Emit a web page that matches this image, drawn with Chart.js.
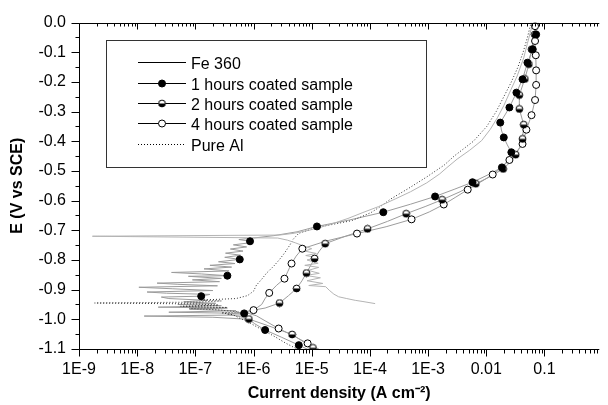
<!DOCTYPE html>
<html>
<head>
<meta charset="utf-8">
<script src="https://cdn.jsdelivr.net/npm/chart.js@4/dist/chart.umd.min.js"></script>
<style>
  body { margin: 0; background: #fff; }
  canvas { display: block; }
</style>
</head>
<body>
<canvas id="myChart" width="608" height="405"></canvas>
<script>
// series names as in the legend
const seriesNames = ["Fe 360", "1 hours coated sample", "2 hours coated sample", "4 hours coated sample", "Pure Al"];

// axis ticks
const xTickValues = [1e-9, 1e-8, 1e-7, 1e-6, 1e-5, 1e-4, 1e-3, 1e-2, 1e-1];
const xTickLabels = ["1E-9", "1E-8", "1E-7", "1E-6", "1E-5", "1E-4", "1E-3", "0.01", "0.1"];
const yTickValues = [0, -0.1, -0.2, -0.3, -0.4, -0.5, -0.6, -0.7, -0.8, -0.9, -1.0, -1.1];
const yTickLabels = ["0.0", "-0.1", "-0.2", "-0.3", "-0.4", "-0.5", "-0.6", "-0.7", "-0.8", "-0.9", "-1.0", "-1.1"];

// Fe 360 : potential (V vs SCE) and current density (A cm-2)
const fe360E = [-0.947,-0.940,-0.936,-0.930,-0.924,-0.915,-0.902,-0.890,-0.886,-0.879,-0.870,-0.860,-0.852,-0.845,-0.835,-0.825,-0.818,-0.811,-0.800,-0.792,-0.785,-0.778,-0.770,-0.762,-0.752,-0.742,-0.733,-0.726,-0.720,-0.716,-0.710,-0.700,-0.690,-0.675,-0.660,-0.640,-0.620,-0.594,-0.570,-0.540,-0.510,-0.489,-0.460,-0.430,-0.398,-0.360,-0.321,-0.280,-0.230,-0.180,-0.119,-0.070,-0.018,0.000];
const fe360I = [1.23e-4,7.6e-5,5.6e-5,4.0e-5,2.9e-5,2.4e-5,2.0e-5,1.74e-5,8.9e-6,1.55e-5,8.3e-6,1.41e-5,7.9e-6,1.35e-5,8.7e-6,1.32e-5,7.6e-6,1.29e-5,8.3e-6,1.23e-5,7.9e-6,1.20e-5,7.6e-6,1.0e-5,7.1e-6,5.2e-6,3.8e-6,2.6e-6,1.7e-9,2.8e-6,5.0e-6,8.9e-6,1.41e-5,2.5e-5,4.2e-5,7.6e-5,1.41e-4,2.75e-4,5.0e-4,9.5e-4,1.58e-3,2.1e-3,3.16e-3,5.2e-3,8.3e-3,1.17e-2,1.55e-2,2.0e-2,2.6e-2,3.4e-2,4.4e-2,5.1e-2,6.0e-2,6.3e-2];

// Pure Al
const pureAlE = [-1.150,-1.100,-1.080,-1.060,-1.040,-1.026,-1.010,-0.995,-0.985,-0.978,-0.975,-0.968,-0.963,-0.960,-0.956,-0.952,-0.948,-0.945,-0.942,-0.938,-0.935,-0.930,-0.920,-0.905,-0.885,-0.865,-0.845,-0.820,-0.800,-0.777,-0.750,-0.730,-0.710,-0.690,-0.667,-0.640,-0.620,-0.594,-0.560,-0.520,-0.480,-0.450,-0.400,-0.350,-0.300,-0.250,-0.200,-0.150,-0.100,-0.050,0.000];
const pureAlI = [1.26e-5,5.6e-6,3.55e-6,2.4e-6,1.58e-6,1.15e-6,8.3e-7,5.6e-7,4.5e-7,2.8e-7,5.6e-7,2.4e-7,7.9e-8,3.55e-7,5.6e-8,2.5e-7,1.0e-7,1.86e-9,1.12e-7,2.8e-7,1.26e-7,5.0e-7,7.9e-7,1.0e-6,1.12e-6,1.38e-6,1.66e-6,2.24e-6,2.75e-6,3.4e-6,4.2e-6,4.8e-6,6.0e-6,1.26e-5,5.0e-5,1.05e-4,1.51e-4,2.3e-4,4.5e-4,9.5e-4,1.9e-3,2.8e-3,6.0e-3,1.02e-2,1.48e-2,2.0e-2,2.7e-2,3.5e-2,4.3e-2,5.1e-2,5.9e-2];

// 1 hours coated sample
const oneHourE = [-1.150,-1.100,-1.087,-1.060,-1.036,-1.015,-1.000,-0.993,-0.989,-0.985,-0.980,-0.976,-0.971,-0.966,-0.962,-0.959,-0.954,-0.950,-0.946,-0.941,-0.936,-0.930,-0.925,-0.922,-0.916,-0.912,-0.908,-0.903,-0.897,-0.892,-0.887,-0.882,-0.878,-0.873,-0.867,-0.862,-0.855,-0.853,-0.847,-0.842,-0.837,-0.830,-0.824,-0.818,-0.812,-0.806,-0.798,-0.791,-0.784,-0.777,-0.770,-0.763,-0.756,-0.749,-0.743,-0.737,-0.731,-0.726,-0.718,-0.705,-0.687,-0.665,-0.639,-0.612,-0.586,-0.562,-0.538,-0.512,-0.488,-0.462,-0.437,-0.412,-0.387,-0.362,-0.337,-0.311,-0.286,-0.236,-0.191,-0.135,-0.090,-0.040,0.000];
const oneHourI = [2.8e-5,8.3e-6,6.0e-6,3.0e-6,1.58e-6,1.05e-6,8.3e-7,2.0e-7,1.32e-8,7.6e-7,6.9e-7,3.5e-8,5.0e-7,7.9e-8,3.55e-7,2.3e-8,2.8e-7,5.0e-8,2.24e-7,6.3e-8,1.58e-7,3.5e-8,2.6e-8,1.26e-7,1.78e-7,3.2e-8,1.48e-8,2.0e-7,4.0e-8,1.07e-8,2.4e-7,5.0e-8,2.2e-8,2.6e-7,8.9e-8,2.8e-7,7.6e-8,3.55e-7,1.26e-7,3.9e-8,3.8e-7,1.41e-7,4.2e-7,1.78e-7,4.8e-7,2.5e-7,5.8e-7,3.2e-7,6.0e-7,3.3e-7,6.6e-7,4.0e-7,7.6e-7,4.5e-7,7.9e-7,8.7e-7,5.6e-7,1.0e-6,2.24e-6,5.6e-6,1.23e-5,4.5e-5,1.7e-4,5.0e-4,1.32e-3,2.8e-3,5.8e-3,1.1e-2,1.86e-2,2.4e-2,2.7e-2,2.3e-2,2.0e-2,1.82e-2,1.74e-2,2.1e-2,2.5e-2,3.3e-2,4.2e-2,5.1e-2,6.3e-2,7.2e-2,7.8e-2];
const oneHourMarkE = [-1.087,-1.036,-0.980,-0.922,-0.853,-0.798,-0.737,-0.687,-0.639,-0.586,-0.538,-0.488,-0.437,-0.387,-0.337,-0.286,-0.236,-0.191,-0.135,-0.090,-0.040];
const oneHourMarkI = [6.0e-6,1.58e-6,6.9e-7,1.26e-7,3.55e-7,5.8e-7,8.7e-7,1.23e-5,1.7e-4,1.32e-3,5.8e-3,1.86e-2,2.7e-2,2.0e-2,1.74e-2,2.5e-2,3.3e-2,4.2e-2,5.1e-2,6.3e-2,7.2e-2];

// 2 hours coated sample
const twoHourE = [-1.150,-1.096,-1.075,-1.051,-1.025,-0.999,-0.990,-0.983,-0.976,-0.962,-0.945,-0.920,-0.896,-0.870,-0.844,-0.820,-0.795,-0.770,-0.745,-0.720,-0.695,-0.670,-0.644,-0.620,-0.597,-0.570,-0.543,-0.518,-0.493,-0.470,-0.445,-0.420,-0.392,-0.344,-0.291,-0.244,-0.190,-0.140,-0.090,-0.040,0.000];
const twoHourI = [2.8e-5,1.05e-5,7.1e-6,4.6e-6,2.0e-6,8.3e-7,5.6e-7,3.55e-7,6.3e-7,1.58e-6,2.8e-6,4.0e-6,5.5e-6,6.8e-6,8.1e-6,9.5e-6,1.12e-5,1.35e-5,1.7e-5,3.8e-5,9.1e-5,2.0e-4,4.2e-4,8.9e-4,1.74e-3,3.55e-3,6.6e-3,1.2e-2,1.95e-2,2.6e-2,3.2e-2,3.8e-2,4.2e-2,4.4e-2,3.7e-2,3.7e-2,4.6e-2,5.4e-2,6.0e-2,6.8e-2,7.2e-2];
const twoHourMarkE = [-1.096,-1.051,-0.999,-0.945,-0.896,-0.844,-0.795,-0.745,-0.695,-0.644,-0.597,-0.543,-0.493,-0.445,-0.392,-0.344,-0.291,-0.244,-0.190,-0.140,-0.090,-0.040];
const twoHourMarkI = [1.05e-5,4.6e-6,8.3e-7,2.8e-6,5.5e-6,8.1e-6,1.12e-5,1.7e-5,9.1e-5,4.2e-4,1.74e-3,6.6e-3,1.95e-2,3.2e-2,4.2e-2,4.4e-2,3.7e-2,3.7e-2,4.6e-2,5.4e-2,6.0e-2,6.8e-2];

// 4 hours coated sample
const fourHourE = [-1.150,-1.100,-1.081,-1.055,-1.031,-1.005,-0.988,-0.978,-0.969,-0.950,-0.930,-0.911,-0.885,-0.863,-0.838,-0.812,-0.787,-0.762,-0.736,-0.711,-0.688,-0.663,-0.638,-0.613,-0.588,-0.563,-0.538,-0.512,-0.488,-0.463,-0.436,-0.409,-0.361,-0.312,-0.261,-0.210,-0.161,-0.110,-0.062,-0.012,0.000];
const fourHourI = [3.55e-5,1.32e-5,8.5e-6,4.8e-6,2.7e-6,1.58e-6,1.12e-6,7.6e-7,1.0e-6,1.38e-6,1.58e-6,1.86e-6,2.5e-6,3.4e-6,3.9e-6,4.5e-6,5.4e-6,6.9e-6,1.78e-5,6.0e-5,1.9e-4,5.2e-4,1.05e-3,1.86e-3,3.0e-3,4.8e-3,7.9e-3,1.29e-2,1.86e-2,2.5e-2,3.3e-2,4.2e-2,4.9e-2,6.0e-2,6.9e-2,7.2e-2,7.2e-2,7.1e-2,6.9e-2,6.9e-2,6.9e-2];
const fourHourMarkE = [-1.081,-1.031,-0.969,-0.911,-0.863,-0.812,-0.762,-0.711,-0.663,-0.613,-0.563,-0.512,-0.463,-0.409,-0.361,-0.312,-0.261,-0.210,-0.161,-0.110,-0.062,-0.012];
const fourHourMarkI = [8.5e-6,2.7e-6,1.0e-6,1.86e-6,3.4e-6,4.5e-6,6.9e-6,6.0e-5,5.2e-4,1.86e-3,4.8e-3,1.29e-2,2.5e-2,4.2e-2,4.9e-2,6.0e-2,6.9e-2,7.2e-2,7.2e-2,7.1e-2,6.9e-2,6.9e-2];


function toPoints(E, I) {
  return E.map((e, k) => ({x: I[k], y: e}));
}

// half filled circle for the 2 hours symbol
const halfDot = document.createElement("canvas");
halfDot.width = 9; halfDot.height = 9;
(function(){
  const c = halfDot.getContext("2d");
  c.beginPath(); c.arc(4.5, 4.5, 3.4, 0, Math.PI*2); c.fillStyle = "#fff"; c.fill();
  c.beginPath(); c.arc(4.5, 4.5, 3.4, 0, Math.PI); c.fillStyle = "#000"; c.fill();
  c.beginPath(); c.arc(4.5, 4.5, 3.4, 0, Math.PI*2); c.strokeStyle = "#000"; c.lineWidth = 1; c.stroke();
})();

const lineGray = "#9c9c9c";

function lineSet(name, E, I, color, dash) {
  return {label: name, data: toPoints(E, I), showLine: true, borderColor: color, borderWidth: 1,
    borderDash: dash || [], pointRadius: 0, tension: 0, order: 2};
}
function markSet(name, E, I, style, fill) {
  return {label: name, data: toPoints(E, I), showLine: false, pointStyle: style, pointRadius: 3.5,
    pointBackgroundColor: fill, pointBorderColor: "#000", pointBorderWidth: 1, order: 1};
}

const datasets = [
  lineSet(seriesNames[0], fe360E, fe360I, "#b4b4b4"),
  lineSet(seriesNames[4], pureAlE, pureAlI, "#333", [1, 2]),
  lineSet(seriesNames[1], oneHourE, oneHourI, lineGray),
  lineSet(seriesNames[2], twoHourE, twoHourI, lineGray),
  lineSet(seriesNames[3], fourHourE, fourHourI, lineGray),
  markSet(seriesNames[1], oneHourMarkE, oneHourMarkI, "circle", "#000"),
  markSet(seriesNames[2], twoHourMarkE, twoHourMarkI, halfDot, "#000"),
  markSet(seriesNames[3], fourHourMarkE, fourHourMarkI, "circle", "#fff")
];

// axes frame and tick marks
const frame = {
  id: "frame",
  afterDraw(chart) {
    const {ctx, chartArea: a, scales: {x, y}} = chart;
    const L = Math.round(a.left) + 0.5, B = Math.round(a.bottom) + 0.5, T = Math.round(a.top) + 0.5;
    ctx.save();
    ctx.strokeStyle = "#000";
    ctx.lineWidth = 1;
    ctx.beginPath();
    ctx.moveTo(L, T); ctx.lineTo(L, B);
    ctx.moveTo(L, B); ctx.lineTo(a.right, B);
    ctx.moveTo(L, T); ctx.lineTo(a.right, T);
    x.ticks.forEach(t => {
      const px = Math.round(x.getPixelForValue(t.value)) + 0.5;
      const major = t.label !== "";
      ctx.moveTo(px, B); ctx.lineTo(px, B + (major ? 7 : 4));
      ctx.moveTo(px, T); ctx.lineTo(px, T + (major ? 6 : 3));
    });
    y.ticks.forEach(t => {
      const py = Math.round(y.getPixelForValue(t.value)) + 0.5;
      const major = t.label !== "";
      ctx.moveTo(L, py); ctx.lineTo(L - (major ? 8 : 4), py);
    });
    ctx.stroke();
    ctx.restore();
  }
};

// legend box
const legendBox = {
  id: "legendBox",
  afterDraw(chart) {
    const ctx = chart.ctx;
    const rows = [62, 82.5, 102.5, 122.5, 143.5];
    const order = [0, 1, 2, 3, 4];
    ctx.save();
    ctx.strokeStyle = "#333";
    ctx.lineWidth = 1;
    ctx.strokeRect(106.5, 40.5, 320, 127);
    ctx.font = "16px 'Liberation Sans', Arial, sans-serif";
    ctx.fillStyle = "#000";
    ctx.textBaseline = "alphabetic";
    order.forEach((s, k) => {
      const yy = Math.round(rows[k]) + 0.5;
      ctx.beginPath();
      ctx.strokeStyle = "#000";
      ctx.setLineDash(s === 4 ? [1, 2] : []);
      ctx.moveTo(138, yy); ctx.lineTo(186, yy);
      ctx.stroke();
      ctx.setLineDash([]);
      if (s === 1 || s === 3) {
        ctx.beginPath();
        ctx.arc(162, yy, 3.5, 0, Math.PI * 2);
        ctx.fillStyle = s === 1 ? "#000" : "#fff";
        ctx.fill();
        ctx.stroke();
      } else if (s === 2) {
        ctx.drawImage(halfDot, 162 - 4.5, yy - 4.5);
      }
      ctx.fillStyle = "#000";
      ctx.fillText(seriesNames[s], 191, yy + 6);
    });
    ctx.restore();
  }
};

const config = {
  type: "scatter",
  data: {datasets: datasets},
  options: {
    responsive: false,
    animation: false,
    layout: {padding: {top: 21, left: 0, right: 0, bottom: 0}},
    plugins: {legend: {display: false}, tooltip: {enabled: false}},
    scales: {
      x: {
        type: "logarithmic",
        min: 1e-9,
        max: 0.877,
        grid: {display: false, drawTicks: false},
        border: {display: false},
        afterFit: s => { s.height = 56; },
        afterBuildTicks: s => {
          const t = [];
          xTickValues.forEach(v => {
            for (let m = 1; m <= 9; m++) {
              const val = v * m;
              if (val <= s.max) t.push({value: val});
            }
          });
          s.ticks = t;
        },
        ticks: {
          autoSkip: false, maxRotation: 0, padding: 11, color: "#000",
          font: {size: 16, family: "'Liberation Sans', Arial, sans-serif"},
          callback: function(v) {
            const k = xTickValues.findIndex(p => Math.abs(p - v) < p * 1e-6);
            return k >= 0 ? xTickLabels[k] : "";
          }
        },
        title: {
          display: true, text: "Current density (A cm\u207B\u00B2)", color: "#000",
          font: {size: 16, weight: "bold", family: "'Liberation Sans', Arial, sans-serif"},
          padding: {top: 0, bottom: 2}
        }
      },
      y: {
        type: "linear",
        min: -1.1,
        max: 0,
        grid: {display: false, drawTicks: false},
        border: {display: false},
        afterFit: s => { s.width = 79; },
        afterBuildTicks: s => {
          const t = [];
          for (let k = 0; k <= 22; k++) t.push({value: Math.round(-k * 5) / 100});
          s.ticks = t;
        },
        ticks: {
          autoSkip: false, padding: 13, color: "#000",
          font: {size: 16, family: "'Liberation Sans', Arial, sans-serif"},
          callback: function(v) {
            const k = yTickValues.findIndex(p => Math.abs(p - v) < 1e-6);
            return k >= 0 ? yTickLabels[k] : "";
          }
        },
        title: {
          display: true, text: "E (V vs SCE)", color: "#000",
          font: {size: 16, weight: "bold", family: "'Liberation Sans', Arial, sans-serif"},
          padding: {top: 8, bottom: 0}
        }
      }
    }
  },
  plugins: [frame, legendBox]
};

const myChart = new Chart(document.getElementById("myChart"), config);
</script>
</body>
</html>
